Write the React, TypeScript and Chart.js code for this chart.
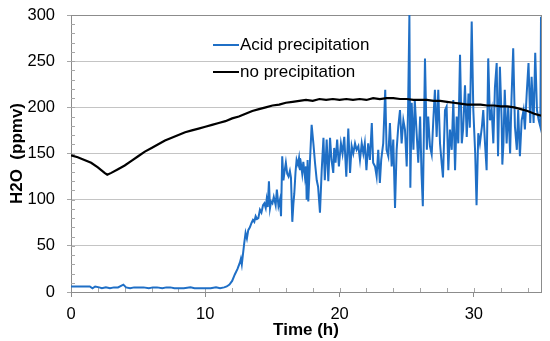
import React, { useEffect, useRef } from "react";
import { Chart, registerables } from "chart.js";

Chart.register(...registerables);

const acidTimes = [
  0, 0.5, 1, 1.4, 1.6, 1.8, 2.1, 2.3, 2.6, 2.9, 3.2, 3.5, 3.9, 4.1, 4.4, 4.7, 5, 5.4, 5.8, 6.1, 6.4, 6.8, 7.1, 7.4, 7.7, 8, 8.4, 8.9, 9.2, 9.6, 10, 10.4, 10.8, 11.1, 11.4, 11.6, 11.8, 12.0, 12.2, 12.4,
  12.58, 12.65, 12.72, 12.9, 13.0, 13.1, 13.2, 13.32, 13.45, 13.55, 13.65, 13.75, 13.85, 13.95, 14.07, 14.18, 14.3, 14.4, 14.5, 14.57, 14.65, 14.74, 14.82, 14.9, 15.0, 15.1, 15.24, 15.33, 15.45, 15.56, 15.64, 15.73, 15.82, 15.9, 16.0, 16.1, 16.2, 16.3, 16.38, 16.48, 16.56, 16.63, 16.72, 16.8, 16.9, 16.98, 17.05, 17.13, 17.22, 17.3, 17.42, 17.5, 17.55, 17.62, 17.67, 17.8, 17.92,
  18.05, 18.17, 18.3, 18.4, 18.54, 18.67, 18.8, 18.9, 19.04, 19.16, 19.29, 19.4, 19.53, 19.6, 19.7, 19.82, 19.95, 20.1, 20.22, 20.35, 20.5, 20.65, 20.78, 20.9, 21.02, 21.15, 21.27, 21.4, 21.52, 21.65, 21.77, 21.88, 22.0, 22.13, 22.26, 22.4, 22.5, 22.64, 22.76, 22.88, 23.0, 23.1, 23.25, 23.4, 23.5, 23.63, 23.75, 23.88, 24.0, 24.13, 24.25, 24.37, 24.5, 24.62, 24.75, 24.87, 25.0, 25.1, 25.2, 25.27, 25.37, 25.5, 25.6, 25.74, 25.86, 26.0, 26.1, 26.2, 26.36, 26.5, 26.6, 26.73, 26.86, 26.98,
  27.1, 27.23, 27.35, 27.48, 27.6, 27.7, 27.85, 27.97, 28.1, 28.22, 28.35, 28.47, 28.6, 28.72, 28.84, 28.97, 29.1, 29.2, 29.34, 29.47, 29.6, 29.7, 29.84, 29.96, 30.1, 30.2, 30.33, 30.45, 30.6, 30.7, 30.83, 30.95, 31.07, 31.2, 31.33, 31.45, 31.57, 31.7, 31.8, 31.94, 32.07, 32.12, 32.2, 32.3, 32.44, 32.56, 32.7, 32.8, 32.93, 33.06, 33.2, 33.3, 33.43, 33.56, 33.7, 33.8, 33.94, 34.07, 34.2, 34.3, 34.45, 34.57, 34.7, 34.83, 34.95, 35.0,
];

const acidValues = [
  6, 6, 6, 6, 4, 6, 5, 4, 5, 4, 5, 5, 8, 5, 4, 5, 5, 5, 4, 5, 5, 4, 5, 5, 4, 4, 4, 5, 4, 4, 4, 4, 5, 4, 5, 6, 8, 12, 19, 25,
  32, 36, 30, 53, 64, 58, 67, 70, 75, 78, 76, 82, 79, 80, 89, 86, 94, 96, 91, 100, 92, 120, 91, 98, 96, 103, 94, 111, 93, 100, 82, 147, 121, 130, 140, 128, 125, 131, 124, 76, 95, 107, 130, 143, 138, 145, 132, 138, 128, 141, 125, 136, 100, 143, 98, 143, 181,
  161, 140, 121, 114, 86, 132, 167, 121, 165, 120, 167, 143, 129, 156, 140, 165, 136, 161, 150, 168, 125, 177, 129, 158, 150, 161, 154, 158, 143, 161, 150, 161, 132, 161, 143, 183, 140, 136, 125, 154, 118, 143, 161, 219, 154, 147, 183, 136, 165, 91, 154, 179, 197, 161, 186, 176, 136, 197, 300, 113, 205, 154, 208, 172, 140, 190, 129, 93, 253, 154, 190, 158, 149, 186,
  219, 168, 219, 161, 140, 124, 197, 201, 132, 176, 154, 208, 132, 190, 161, 257, 161, 176, 224, 168, 215, 178, 293, 197, 150, 94, 172, 161, 179, 197, 161, 132, 253, 186, 197, 161, 222, 248, 147, 244, 186, 138, 160, 219, 161, 201, 150, 208, 264, 179, 154, 197, 147, 186, 197, 176, 216, 248, 183, 233, 183, 259, 197, 186, 179, 298,
];

const noPrecipTimes = [
  0, 0.5, 1, 1.5, 2, 2.5, 2.7, 3, 3.5, 4, 4.5, 5, 5.5, 6, 6.5, 7, 7.5, 8, 8.5, 9, 9.5, 10, 10.5, 11, 11.5, 12, 12.5, 13, 13.5, 14, 14.5, 15, 15.5, 16, 16.5, 17, 17.5, 18, 18.5, 19, 19.5, 20, 20.5, 21, 21.5, 22, 22.5, 23, 23.5, 24, 24.5, 25, 25.5, 26, 26.5, 27, 27.5, 28, 28.5, 29, 29.5, 30, 30.5, 31, 31.5, 32, 32.5, 33, 33.5, 34, 34.5, 35,
];

const noPrecipValues = [
  148, 146, 143, 140, 135, 129, 127, 129, 133, 137, 142, 147, 152, 156, 160, 164, 167, 170, 173, 175, 177, 179, 181, 183, 185, 188, 190, 193, 196, 198, 200, 202, 203, 205, 206, 207, 208, 207, 209, 208, 209, 208, 209, 208, 209, 208, 210, 209, 210, 210, 209, 209, 208, 208, 208, 207, 207, 206, 205, 204, 203, 203, 203, 202, 202, 201, 201, 200, 198, 196, 193, 191,
];

const seriesLabels = ["Acid precipitation", "no precipitation"];
const seriesColors = ["#1F6FC6", "#000000"];
const xTickValues = [0, 10, 20, 30];
const yTickStep = 50;

const FONT = "'Liberation Sans', Arial, sans-serif";

const decorPlugin = {
  id: "decor",
  beforeDatasetsDraw(chart: any) {
    const { ctx, chartArea: a, scales } = chart;
    ctx.save();
    ctx.strokeStyle = "#8c8c8c";
    ctx.lineWidth = 1;
    ctx.strokeRect(Math.round(a.left) + 0.5, Math.round(a.top) + 0.5, Math.round(a.right - a.left), Math.round(a.bottom - a.top));
    ctx.strokeStyle = "#a6a6a6";
    ctx.beginPath();
    for (let v = 10; v < 300; v += 10) {
      const y = Math.round(scales.y.getPixelForValue(v)) + 0.5;
      ctx.moveTo(a.left, y);
      ctx.lineTo(a.left + 4, y);
    }
    for (let t = 2; t < 35; t += 2) {
      const x = Math.round(scales.x.getPixelForValue(t)) + 0.5;
      ctx.moveTo(x, a.bottom);
      ctx.lineTo(x, a.bottom - 4);
    }
    ctx.stroke();
    ctx.restore();
  },
  afterDraw(chart: any) {
    const { ctx, chartArea: a } = chart;
    ctx.save();
    ctx.font = `17px ${FONT}`;
    ctx.textBaseline = "middle";
    ctx.textAlign = "left";
    chart.data.datasets.forEach((ds: any, i: number) => {
      const y = a.top + 30 + i * 27;
      const x0 = a.left + 142;
      ctx.strokeStyle = ds.borderColor;
      ctx.lineWidth = 2;
      ctx.beginPath();
      ctx.moveTo(x0, y);
      ctx.lineTo(x0 + 26, y);
      ctx.stroke();
      ctx.fillStyle = "#000";
      ctx.fillText(ds.label, x0 + 27, y);
    });
    ctx.restore();
  },
};

export default function App() {
  const ref = useRef<HTMLCanvasElement | null>(null);
  useEffect(() => {
    if (!ref.current) return;
    const acid = acidTimes.map((t, i) => ({ x: t, y: acidValues[i] }));
    const noP = noPrecipTimes.map((t, i) => ({ x: t, y: noPrecipValues[i] }));
    const chart = new Chart(ref.current, {
      type: "line",
      data: {
        datasets: [
          { label: seriesLabels[0], data: acid, borderColor: seriesColors[0], backgroundColor: seriesColors[0], borderWidth: 2, pointRadius: 0, tension: 0, order: 1 },
          { label: seriesLabels[1], data: noP, borderColor: seriesColors[1], backgroundColor: seriesColors[1], borderWidth: 2.2, pointRadius: 0, tension: 0, order: 0 },
        ],
      },
      options: {
        animation: false,
        responsive: false,
        devicePixelRatio: 1,
        layout: { padding: { top: 15, right: 9, left: 0, bottom: 0 } },
        plugins: { legend: { display: false }, tooltip: { enabled: false } },
        scales: {
          x: {
            type: "linear",
            min: 0,
            max: 35,
            afterBuildTicks: (s: any) => {
              s.ticks = xTickValues.map((v) => ({ value: v }));
            },
            afterFit: (s: any) => {
              s.height = 49;
              s.paddingLeft = 0;
              s.paddingRight = 0;
            },
            ticks: { font: { family: FONT, size: 16.5 }, color: "#000", padding: 8, maxRotation: 0 },
            grid: { drawOnChartArea: false, tickLength: 5, tickColor: "#8c8c8c" },
            border: { color: "#8c8c8c" },
            title: { display: true, text: "Time (h)", font: { family: FONT, size: 17, weight: "bold" }, color: "#000", padding: { top: -6, bottom: 0 } },
          },
          y: {
            min: 0,
            max: 300,
            ticks: { stepSize: yTickStep, font: { family: FONT, size: 16.5 }, color: "#000", padding: 12 },
            afterFit: (s: any) => {
              s.width = 71;
              s.paddingTop = 0;
              s.paddingBottom = 0;
            },
            grid: { color: "#c4c4c4", tickLength: 4, tickColor: "#a6a6a6" },
            border: { color: "#8c8c8c" },
            title: { display: true, text: "H2O  (ppmv)", font: { family: FONT, size: 17, weight: "bold" }, color: "#000", padding: { top: 7, bottom: 0 } },
          },
        },
      },
      plugins: [decorPlugin],
    });
    return () => chart.destroy();
  }, []);
  return (
    <div style={{ position: "absolute", left: 0, top: 0, width: 550, height: 341, background: "#fff" }}>
      <canvas ref={ref} width={550} height={341} />
    </div>
  );
}
